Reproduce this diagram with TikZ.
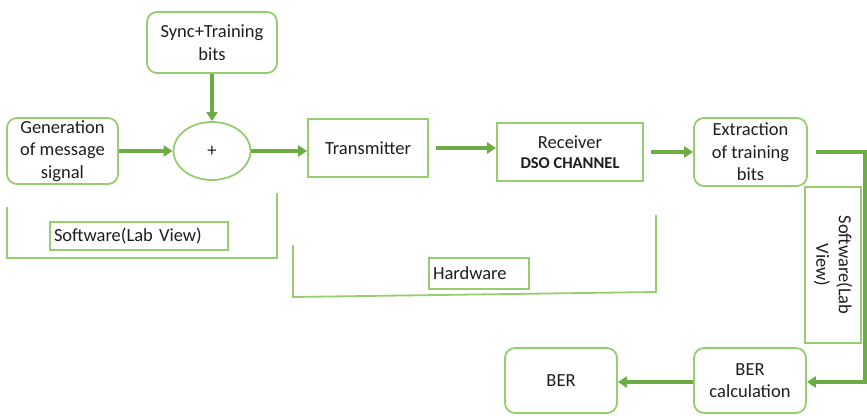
\documentclass[tikz,border=0pt]{standalone}
\usepackage{fontspec}
\setmainfont{Carlito}
\usetikzlibrary{arrows.meta,shapes.geometric}
\definecolor{boxg}{RGB}{150,205,110}
\definecolor{arrg}{RGB}{108,172,66}
\definecolor{txt}{RGB}{30,30,30}
\tikzset{
  blk/.style={draw=boxg,line width=1.8pt,align=center,text=txt,font=\fontsize{18.5}{22.5}\selectfont,inner sep=2pt},
  rblk/.style={blk,rounded corners=10pt},
  arr/.style={draw=arrg,line width=3.4pt,-{Triangle[length=9pt,width=11pt]}},
  brk/.style={draw=boxg,line width=1.8pt},
}
\begin{document}
\begin{tikzpicture}[x=1pt,y=-1pt]
\useasboundingbox (0,0) rectangle (867,415);
\node[rblk,minimum width=130pt,minimum height=61pt] (sync) at (212,42.5) {Sync+Training\\bits};
\node[rblk,minimum width=111pt,minimum height=66pt] (gen) at (62.5,151) {Generation\\of message\\signal};
\node[blk,ellipse,minimum width=77pt,minimum height=58pt] (plus) at (212,151) {+};
\node[blk,minimum width=120pt,minimum height=58pt] (tx) at (368,148) {Transmitter};
\node[blk,minimum width=146pt,minimum height=58pt] (rx) at (570,152) {Receiver\\[-3pt]{\fontsize{16.5}{18}\selectfont\bfseries DSO CHANNEL}};
\node[rblk,minimum width=113pt,minimum height=68pt] (ext) at (750.5,152) {Extraction\\of training\\bits};
\node[blk,minimum width=156pt,minimum height=56pt,rotate=-90] (swv) at (833,265) {Software(Lab\\View)};
\node[rblk,minimum width=112pt,minimum height=65pt] (berc) at (750,380.5) {BER\\calculation};
\node[rblk,minimum width=112pt,minimum height=65pt] (ber) at (561,380.5) {BER};
\node[blk,minimum width=178pt,minimum height=28pt,text width=170pt,align=left] (swl) at (139,236) {Software(Lab View)};
\node[blk,minimum width=100pt,minimum height=31pt,text width=92pt,align=left] (hwl) at (479,273.5) {Hardware};
% brackets
\draw[brk] (7,207) -- (7,258) -- (277,258) -- (277,193);
\draw[brk] (293,245) -- (293,297) -- (656,292) -- (656,215);
% connectors
\draw[arr] (sync.south) -- (plus.north);
\draw[arr] (gen.east) -- (plus.west);
\draw[arr] (plus.east) -- (plus.east -| tx.west);
\draw[arr,shorten <=7pt] (tx.east) -- (tx.east -| rx.west);
\draw[arr,shorten <=7pt] (rx.east) -- (rx.east -| ext.west);
\coordinate (c1) at (865,152);
\coordinate (c2) at (865,382);
\draw[arr,shorten <=8pt] (ext.east) -- (c1) -- (c2) -- (berc.east |- c2);
\draw[arr] (berc.west |- c2) -- (ber.east |- c2);
\end{tikzpicture}
\end{document}
